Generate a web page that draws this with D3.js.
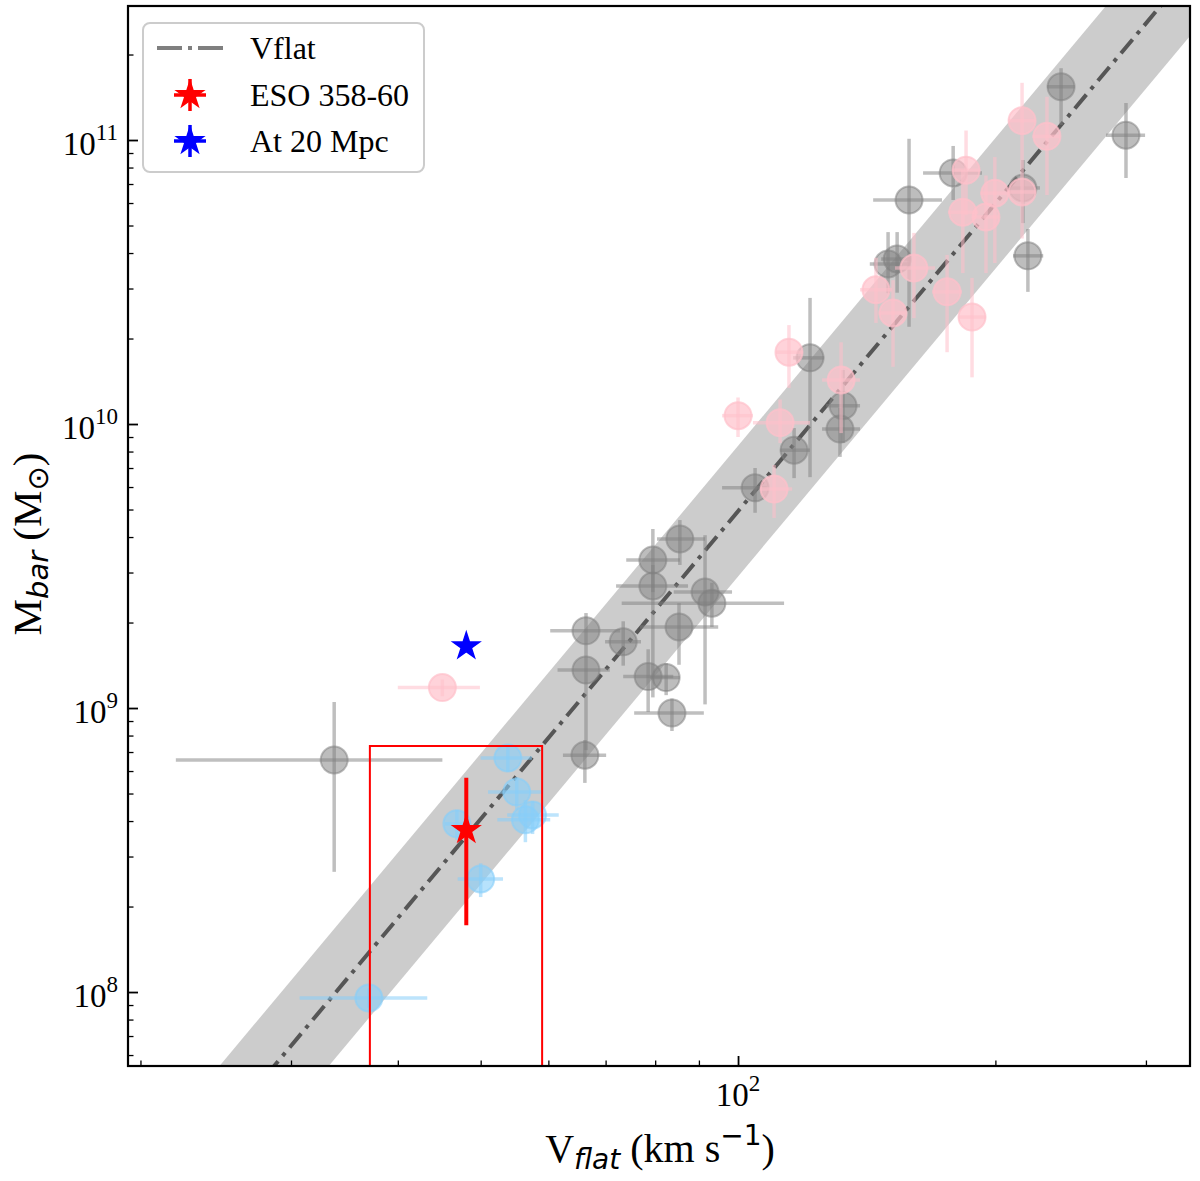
<!DOCTYPE html>
<html lang="en">
<head>
<meta charset="UTF-8">
<script src="https://d3js.org/d3.v7.min.js"></script>
<title>Baryonic Tully-Fisher</title>
<style>
  body { margin: 0; background: #fff; }
</style>
</head>
<body>
<svg id="plot"></svg>
<script>
// each row: [Vflat, Vlow, Vhigh, Mbar, Mlow, Mhigh]
const grayPts = [
  [33.7, 22.0, 45.1, 6.56e8, 2.65e8, 1.05e9],
  [66.4, 60.3, 72.8, 1.87e9, 1.60e9, 2.16e9],
  [66.4, 61.5, 70.8, 1.36e9, 7.11e8, 1.60e9],
  [66.2, 62.4, 70.1, 6.82e8, 5.45e8, 7.71e8],
  [73.4, 69.9, 77.0, 1.71e9, 1.41e9, 2.02e9],
  [79.5, 74.0, 85.5, 3.32e9, 2.56e9, 4.27e9],
  [79.5, 72.0, 87.4, 2.69e9, 1.09e9, 3.19e9],
  [85.5, 80.4, 91.5, 3.94e9, 3.19e9, 4.59e9],
  [91.5, 84.1, 98.4, 2.56e9, 1.03e9, 4.06e9],
  [93.2, 73.1, 113.2, 2.34e9, 1.93e9, 2.76e9],
  [85.3, 76.8, 94.8, 1.93e9, 1.42e9, 2.34e9],
  [78.5, 73.4, 84.0, 1.29e9, 9.68e8, 1.61e9],
  [82.4, 78.9, 85.5, 1.28e9, 1.11e9, 1.44e9],
  [83.7, 75.6, 91.2, 9.6e8, 8.3e8, 1.08e9],
  [104.7, 95.8, 108.1, 5.96e9, 4.87e9, 7.0e9],
  [116.3, 112.0, 121.4, 8.09e9, 6.45e9, 9.68e9],
  [121.4, 116.0, 126.1, 1.71e10, 6.5e9, 2.78e10],
  [132.7, 126.8, 138.9, 1.16e10, 8.57e9, 1.55e10],
  [131.6, 125.4, 138.9, 9.6e9, 7.66e9, 1.14e10],
  [149.8, 142.6, 158.8, 3.66e10, 2.89e10, 4.74e10],
  [153.5, 147.0, 159.0, 3.81e10, 2.9e10, 4.74e10],
  [158.5, 143.9, 173.2, 6.15e10, 2.2e10, 1.01e11],
  [178.5, 164.6, 192.9, 7.66e10, 6.15e10, 9.53e10],
  [215.4, 208.0, 225.5, 6.78e10, 5.1e10, 8.5e10],
  [218.3, 209.7, 227.5, 3.91e10, 2.92e10, 4.86e10],
  [238.7, 229.8, 247.7, 1.54e11, 1.13e11, 1.79e11],
  [284.3, 269.4, 299.3, 1.04e11, 7.35e10, 1.35e11]
];
const pinkPts = [
  [45.1, 40.0, 49.9, 1.18e9, 1.10e9, 1.26e9],
  [100.0, 95.8, 104.1, 1.07e10, 9.0e9, 1.24e10],
  [114.7, 110.8, 119.1, 1.79e10, 1.34e10, 2.23e10],
  [112.0, 104.1, 121.4, 1.01e10, 8.57e9, 1.22e10],
  [110.2, 106.1, 115.7, 5.9e9, 4.67e9, 7.17e9],
  [132.0, 125.4, 138.9, 1.43e10, 9.29e9, 1.94e10],
  [145.0, 138.9, 151.4, 2.97e10, 2.27e10, 3.85e10],
  [151.8, 146.0, 157.0, 2.46e10, 1.59e10, 3.21e10],
  [160.6, 152.6, 170.0, 3.54e10, 2.36e10, 4.71e10],
  [175.6, 168.6, 182.8, 2.92e10, 1.79e10, 3.94e10],
  [187.8, 181.0, 195.0, 2.38e10, 1.46e10, 3.27e10],
  [184.8, 178.0, 192.0, 7.83e10, 5.44e10, 1.08e11],
  [183.2, 176.0, 191.0, 5.57e10, 3.4e10, 7.83e10],
  [195.0, 188.0, 202.0, 5.36e10, 3.4e10, 7.5e10],
  [199.7, 192.0, 207.0, 6.5e10, 3.69e10, 8.71e10],
  [214.9, 207.0, 223.0, 6.56e10, 4.5e10, 8.5e10],
  [214.9, 207.0, 223.0, 1.17e11, 8.5e10, 1.59e11],
  [229.8, 221.0, 238.0, 1.03e11, 6.4e10, 1.42e11]
];
const bluePts = [
  [53.8, 50.0, 57.4, 6.67e8, 5.96e8, 7.41e8],
  [55.1, 51.0, 59.0, 5.06e8, 4.38e8, 5.71e8],
  [56.4, 52.3, 60.3, 4.04e8, 3.37e8, 4.74e8],
  [57.5, 53.7, 61.7, 4.2e8, 3.6e8, 4.7e8],
  [46.9, 45.4, 48.6, 3.91e8, 3.43e8, 4.38e8],
  [50.0, 47.0, 53.1, 2.5e8, 2.16e8, 2.84e8],
  [37.0, 30.7, 43.3, 9.53e7, 8.8e7, 1.03e8]
];
const esoPt = [48.1, 3.72e8, 1.72e8, 5.68e8];   // V, M, Mlow, Mhigh
const esoFarPt = [48.1, 1.65e9];                   // at 20 Mpc
const fitSlope = 3.6, fitZero = 2.493, fitScatter = 0.23;  // log M = a log V + b, band +-dex
const boxV = [37.1, 59.0], boxMtop = 7.35e8;
const xMajor = [100], xMinor = [20, 30, 40, 50, 60, 70, 80, 90, 200, 300];
const yMajor = [1e8, 1e9, 1e10, 1e11];
const yMinor = [6e7, 7e7, 8e7, 9e7].concat(...[1e8, 1e9, 1e10].map(d => d3.range(2, 10).map(k => k * d)), [2e11]);

const width = 1200, height = 1181;
const margin = {top: 6, right: 10, bottom: 115, left: 128};
const serif = "'Liberation Serif', 'Times New Roman', serif";
const sans = "'DejaVu Sans', sans-serif";

const svg = d3.select("#plot").attr("width", width).attr("height", height);

const x = d3.scaleLog().domain([19.34, 337.8]).range([margin.left, width - margin.right]);
const y = d3.scaleLog().domain([5.49e7, 2.964e11]).range([height - margin.bottom, margin.top]);
const fitM = (v, off) => Math.pow(10, fitSlope * Math.log10(v) + fitZero + off);

svg.append("clipPath").attr("id", "clip").append("rect")
  .attr("x", margin.left).attr("y", margin.top)
  .attr("width", width - margin.left - margin.right)
  .attr("height", height - margin.top - margin.bottom);

const plot = svg.append("g").attr("clip-path", "url(#clip)");

// scatter band and fit line
const band = d3.area()
  .x(d => x(d))
  .y0(d => y(fitM(d, -fitScatter)))
  .y1(d => y(fitM(d, fitScatter)));
plot.append("path").attr("d", band(x.domain())).attr("fill", "#cccccc");

plot.append("path")
  .attr("d", d3.line().x(d => x(d)).y(d => y(fitM(d, 0)))(x.domain()))
  .attr("fill", "none").attr("stroke", "#000").attr("stroke-opacity", 0.58)
  .attr("stroke-width", 4).attr("stroke-dasharray", "18,7,4,7");

function drawGroup(pts, color, lineOp, dotOp) {
  const g = plot.append("g");
  pts.forEach(d => {
    g.append("line").attr("x1", x(d[1])).attr("x2", x(d[2])).attr("y1", y(d[3])).attr("y2", y(d[3]))
      .attr("stroke", color).attr("stroke-opacity", lineOp).attr("stroke-width", 3.5);
    g.append("line").attr("x1", x(d[0])).attr("x2", x(d[0])).attr("y1", y(d[4])).attr("y2", y(d[5]))
      .attr("stroke", color).attr("stroke-opacity", lineOp).attr("stroke-width", 3.5);
  });
  g.selectAll("circle").data(pts).join("circle")
    .attr("cx", d => x(d[0])).attr("cy", d => y(d[3])).attr("r", 13.5)
    .attr("fill", color).attr("fill-opacity", dotOp)
    .attr("stroke", color).attr("stroke-opacity", dotOp).attr("stroke-width", 2);
}
drawGroup(grayPts, "#808080", 0.5, 0.52);
drawGroup(pinkPts, "#ffc0cb", 0.55, 0.7);
drawGroup(bluePts, "#87cefa", 0.55, 0.6);

// selection box
plot.append("rect")
  .attr("x", x(boxV[0])).attr("y", y(boxMtop))
  .attr("width", x(boxV[1]) - x(boxV[0]))
  .attr("height", y(1e7) - y(boxMtop))
  .attr("fill", "none").attr("stroke", "red").attr("stroke-width", 2);

const star = d3.symbol().type(d3.symbolStar).size(220);
plot.append("line")
  .attr("x1", x(esoPt[0])).attr("x2", x(esoPt[0]))
  .attr("y1", y(esoPt[2])).attr("y2", y(esoPt[3]))
  .attr("stroke", "red").attr("stroke-width", 4);
plot.append("path").attr("d", star())
  .attr("transform", `translate(${x(esoPt[0])},${y(esoPt[1])})`).attr("fill", "red").attr("stroke", "red").attr("stroke-width", 1.5);
plot.append("path").attr("d", star())
  .attr("transform", `translate(${x(esoFarPt[0])},${y(esoFarPt[1])})`).attr("fill", "blue").attr("stroke", "blue").attr("stroke-width", 1.5);

// axes: ticks pointing inward, labels added by hand for the superscripts
const x0 = height - margin.bottom, y0 = margin.left;
svg.append("g").attr("transform", `translate(0,${x0})`)
  .call(d3.axisBottom(x).tickValues(xMinor).tickSize(-5.5).tickFormat(""))
  .call(g => g.select(".domain").remove())
  .call(g => g.selectAll("line").attr("stroke-width", 1.3));
svg.append("g").attr("transform", `translate(0,${x0})`)
  .call(d3.axisBottom(x).tickValues(xMajor).tickSize(-10).tickFormat(""))
  .call(g => g.select(".domain").remove())
  .call(g => g.selectAll("line").attr("stroke-width", 1.8));
svg.append("g").attr("transform", `translate(${y0},0)`)
  .call(d3.axisLeft(y).tickValues(yMinor.filter(v => v > y.domain()[0] && v < y.domain()[1])).tickSize(-5.5).tickFormat(""))
  .call(g => g.select(".domain").remove())
  .call(g => g.selectAll("line").attr("stroke-width", 1.3));
svg.append("g").attr("transform", `translate(${y0},0)`)
  .call(d3.axisLeft(y).tickValues(yMajor).tickSize(-10).tickFormat(""))
  .call(g => g.select(".domain").remove())
  .call(g => g.selectAll("line").attr("stroke-width", 1.8));

xMajor.forEach(v => {
  const t = svg.append("text").attr("x", x(v)).attr("y", 1106)
    .attr("text-anchor", "middle").attr("font-family", serif).attr("font-size", 33);
  t.append("tspan").text("10");
  t.append("tspan").attr("font-size", 23).attr("dy", -15).text(Math.round(Math.log10(v)));
});
yMajor.forEach(v => {
  const t = svg.append("text").attr("x", 118).attr("y", y(v) + 15)
    .attr("text-anchor", "end").attr("font-family", serif).attr("font-size", 33);
  t.append("tspan").text("10");
  t.append("tspan").attr("font-size", 23).attr("dy", -15).text(Math.round(Math.log10(v)));
});

// frame
svg.append("rect")
  .attr("x", margin.left).attr("y", margin.top)
  .attr("width", width - margin.left - margin.right)
  .attr("height", height - margin.top - margin.bottom)
  .attr("fill", "none").attr("stroke", "#000").attr("stroke-width", 2.2);

// axis titles
const xl = svg.append("text").attr("x", 660).attr("y", 1162)
  .attr("text-anchor", "middle").attr("font-family", serif).attr("font-size", 40);
xl.append("tspan").text("V");
xl.append("tspan").attr("font-family", sans).attr("font-style", "italic").attr("font-size", 28).attr("dy", 7).text("flat");
xl.append("tspan").attr("dy", -7).text(" (km s");
xl.append("tspan").attr("font-family", sans).attr("font-size", 28).attr("dy", -17).text("\u22121");
xl.append("tspan").attr("dy", 17).text(")");

const yl = svg.append("text").attr("transform", "translate(41,544) rotate(-90)")
  .attr("text-anchor", "middle").attr("font-family", serif).attr("font-size", 41);
yl.append("tspan").text("M");
yl.append("tspan").attr("font-family", sans).attr("font-style", "italic").attr("font-size", 29).attr("dy", 7).text("bar");
yl.append("tspan").attr("dy", -7).text(" (M");
yl.append("tspan").attr("font-family", sans).attr("font-size", 29).attr("dy", 7).text("\u2299");
yl.append("tspan").attr("dy", -7).text(")");

// legend
const lg = svg.append("g");
lg.append("rect").attr("x", 143).attr("y", 23).attr("width", 281).attr("height", 149).attr("rx", 7)
  .attr("fill", "#fff").attr("fill-opacity", 0.8).attr("stroke", "#cccccc").attr("stroke-width", 2);
lg.append("line").attr("x1", 157).attr("x2", 223).attr("y1", 48).attr("y2", 48)
  .attr("stroke", "#000").attr("stroke-opacity", 0.5).attr("stroke-width", 4).attr("stroke-dasharray", "25,6,4,6");
const legItems = [["Vflat", 48], ["ESO 358-60", 95], ["At 20 Mpc", 141]];
legItems.forEach(d => {
  lg.append("text").attr("x", 250).attr("y", d[1] + 11).attr("font-family", serif).attr("font-size", 32).text(d[0]);
});
[["red", 95], ["blue", 141]].forEach(d => {
  lg.append("line").attr("x1", 190).attr("x2", 190).attr("y1", d[1] - 16).attr("y2", d[1] + 16)
    .attr("stroke", d[0]).attr("stroke-width", 3.5);
  lg.append("line").attr("x1", 174).attr("x2", 206).attr("y1", d[1]).attr("y2", d[1])
    .attr("stroke", d[0]).attr("stroke-width", 3.5);
  lg.append("path").attr("d", star()).attr("transform", `translate(190,${d[1]})`)
    .attr("fill", d[0]).attr("stroke", d[0]).attr("stroke-width", 1.5);
});
</script>
</body>
</html>
